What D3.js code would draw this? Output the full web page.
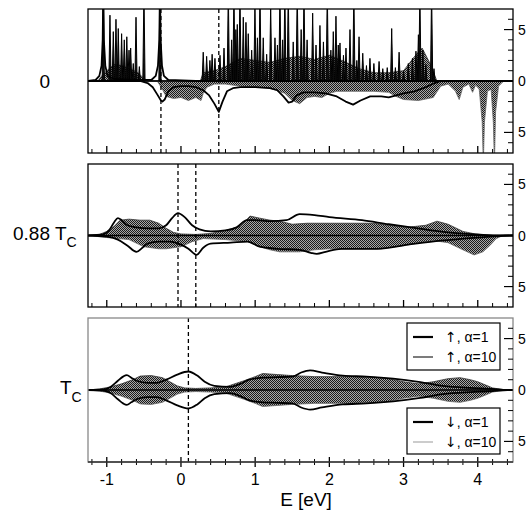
<!DOCTYPE html>
<html><head><meta charset="utf-8">
<script src="https://cdn.jsdelivr.net/npm/d3@7"></script>
<style>body{margin:0;background:#fff}svg{display:block}text{font-family:"Liberation Sans",Arial,Helvetica,sans-serif;fill:#000}</style>
</head><body><svg id="c" width="532" height="512"></svg>
<script>
// ---------- data ----------
const xMajorTicks = [-1, 0, 1, 2, 3, 4];
const xMinorTicks = [-1.2,-0.8,-0.6,-0.4,-0.2,0.2,0.4,0.6,0.8,1.2,1.4,1.6,1.8,2.2,2.4,2.6,2.8,3.2,3.4,3.6,3.8,4.2,4.4];
const yMinorTicks = [-6,-4,-3,-2,-1,1,2,3,4,6];
const yLabelTicks = [-5, 0, 5];
const panelLabels = ["0", "0.88 T", "T"];
const legendArrows = ["\u2191\uFE0E", "\u2191\uFE0E", "\u2193\uFE0E", "\u2193\uFE0E"];
const legendAlpha = [", \u03b1=1", ", \u03b1=10", ", \u03b1=1", ", \u03b1=10"];

// panel 1 (T = 0): spin-up spikes [E, height]
const spikesUp1 = [[-1.047,9],[-0.957,6.4],[-0.912,4.8],[-0.876,6.0],[-0.845,5.1],[-0.80,4.6],[-0.764,4.0],[-0.73,4.3],[-0.70,3.0],[-0.678,3.2],[-0.643,1.7],[-0.606,6.2],[-0.561,1.4],[-0.499,9],[-0.283,9],
 [0.30,2.8],[0.346,2.4],[0.39,2.0],[0.42,2.6],[0.458,2.2],[0.526,2.5],[0.58,3.2],[0.638,9],[0.683,4.0],[0.714,9],[0.74,5.0],[0.759,5.5],[0.795,9],[0.84,6.2],[0.876,5.7],[0.907,4.6],[0.953,3.0],[0.997,7.5],[1.03,4.2],[1.065,9],[1.109,4.2],[1.155,2.6],[1.209,7.5],[1.267,4.2],[1.30,3.5],[1.334,9],[1.37,4.0],[1.40,9],[1.446,9],[1.513,3.8],[1.567,9],[1.62,5.0],[1.658,9],[1.70,4.0],[1.775,6.6],[1.82,3.5],[1.873,5.4],[1.92,3.8],[1.972,9],[2.02,3.0],[2.053,4.8],[2.089,6.3],[2.12,3.5],[2.143,3.7],[2.19,2.5],[2.224,3.2],[2.278,5.0],[2.33,9],[2.37,2.0],[2.40,4.3],[2.45,2.7],[2.50,1.5],[2.547,2.2],[2.60,1.7],[2.67,1.9],[2.72,1.2],[2.78,1.3],[2.84,5.1],[2.89,1.3],[2.94,2.8],[3.00,1.0],[3.064,1.7],[3.12,2.2],[3.167,2.9],[3.20,4.5],[3.22,9],[3.26,3.0],[3.30,1.6],[3.378,9],[3.41,1.2]];
const fillUp1 = [[-1.25,0],[-1.12,0],[-1.08,0.4],[-1.0,1.0],[-0.9,1.6],[-0.8,1.5],[-0.7,1.2],[-0.6,0.9],[-0.52,0.4],[-0.45,0],[0.26,0],[0.3,0.8],[0.45,1.0],[0.6,1.4],[0.8,2.2],[1.0,2.0],[1.2,1.8],[1.4,2.2],[1.6,2.4],[1.8,2.1],[2.0,2.5],[2.2,1.9],[2.4,1.2],[2.6,0.8],[2.8,0.8],[3.0,1.0],[3.15,2.4],[3.25,3.2],[3.35,1.8],[3.45,0],[4.475,0]];
const fillDown1 = [[-1.25,0],[-0.32,0],[-0.25,-0.8],[-0.2,-1.5],[-0.1,-1.7],[0.0,-1.6],[0.1,-1.9],[0.2,-1.6],[0.27,-1.9],[0.3,-1.2],[0.35,-0.6],[0.45,-0.3],[0.6,-0.3],[0.8,-0.5],[1.0,-0.6],[1.2,-0.7],[1.4,-1.2],[1.5,-1.9],[1.6,-2.2],[1.7,-1.6],[1.8,-1.5],[1.9,-1.6],[2.0,-1.2],[2.1,-1.0],[2.3,-1.0],[2.6,-1.0],[2.8,-1.1],[2.9,-1.5],[3.0,-1.8],[3.2,-1.9],[3.4,-1.6],[3.5,-0.5],[3.6,-0.3],[3.7,-1.0],[3.75,-1.8],[3.8,-0.6],[3.88,-0.3],[3.93,-1.1],[3.97,-0.4],[4.02,-0.8],[4.06,-4],[4.075,-8],[4.09,-4],[4.13,-1.0],[4.18,-0.8],[4.21,-4],[4.225,-8],[4.24,-3],[4.28,-0.5],[4.35,0],[4.475,0]];
const lineUp1 = [[-1.25,0],[-1.15,0.1],[-1.10,0.5],[-1.07,1.5],[-1.055,4],[-1.047,9],[-1.039,4],[-1.02,1.5],[-0.99,0.5],[-0.9,0.2],[-0.6,0.1],[-0.40,0.1],[-0.34,0.5],[-0.31,1.5],[-0.292,4],[-0.283,9],[-0.274,4],[-0.256,1.5],[-0.23,0.5],[-0.17,0.1],[0.2,0],[3.45,0],[4.475,0]];
const lineDown1 = [[-1.25,0],[-0.55,0],[-0.45,-0.2],[-0.38,-0.6],[-0.32,-1.3],[-0.27,-1.9],[-0.25,-2.0],[-0.22,-1.8],[-0.17,-1.0],[-0.1,-0.6],[0.0,-0.5],[0.1,-0.5],[0.2,-0.6],[0.3,-0.9],[0.38,-1.4],[0.45,-2.2],[0.51,-3.0],[0.56,-2.0],[0.62,-1.0],[0.7,-0.7],[0.8,-0.6],[1.0,-0.6],[1.2,-0.7],[1.3,-0.9],[1.38,-1.5],[1.45,-2.1],[1.5,-2.0],[1.56,-1.4],[1.65,-1.1],[1.8,-1.1],[1.95,-1.2],[2.1,-1.5],[2.22,-2.0],[2.32,-2.3],[2.42,-1.9],[2.55,-1.5],[2.7,-1.5],[2.8,-1.6],[2.9,-1.4],[3.0,-1.2],[3.15,-1.0],[3.3,-0.6],[3.42,-0.2],[3.5,0],[4.475,0]];
const dashed1 = [-0.27, 0.51];

// panel 2 (0.88 Tc)
const fillUp2 = [[-1.25,0],[-1.1,0.1],[-1.0,0.4],[-0.9,0.9],[-0.82,1.5],[-0.7,1.6],[-0.55,1.5],[-0.42,1.5],[-0.3,1.2],[-0.2,0.7],[-0.1,0.3],[0.0,0.15],[0.2,0.1],[0.4,0.2],[0.6,0.5],[0.8,0.9],[0.93,1.9],[1.06,1.7],[1.2,1.5],[1.33,1.4],[1.5,1.1],[1.7,1.2],[2.0,1.2],[2.3,1.2],[2.6,1.2],[2.8,1.0],[3.04,0.8],[3.3,1.0],[3.45,1.4],[3.6,1.1],[3.8,0.4],[4.0,0.1],[4.2,0],[4.475,0]];
const fillDown2 = [[-1.25,0],[-1.0,-0.2],[-0.7,-0.4],[-0.5,-1.1],[-0.3,-1.3],[-0.2,-1.3],[0.0,-1.1],[0.15,-0.6],[0.3,-0.3],[0.6,-0.4],[0.9,-0.6],[1.06,-1.1],[1.2,-1.4],[1.33,-1.6],[1.6,-1.6],[1.8,-1.4],[2.0,-1.3],[2.4,-1.3],[2.7,-1.3],[3.06,-0.9],[3.4,-0.5],[3.6,-0.7],[3.8,-1.4],[3.95,-1.9],[4.07,-1.6],[4.16,-1.0],[4.25,-0.3],[4.34,0],[4.475,0]];
const lineUp2 = [[-1.25,0],[-1.05,0.1],[-0.97,0.5],[-0.9,1.3],[-0.85,1.7],[-0.8,1.5],[-0.72,1.0],[-0.6,0.8],[-0.45,0.7],[-0.3,0.7],[-0.2,1.0],[-0.12,1.7],[-0.04,2.2],[0.05,1.8],[0.15,1.0],[0.25,0.6],[0.4,0.4],[0.6,0.5],[0.75,0.8],[0.89,1.5],[1.0,1.5],[1.2,1.4],[1.42,1.5],[1.6,2.1],[1.8,2.0],[2.0,1.8],[2.44,1.5],[2.8,1.1],[3.1,0.8],[3.6,0.3],[4.0,0.1],[4.3,0],[4.475,0]];
const lineDown2 = [[-1.25,0],[-1.0,-0.1],[-0.85,-0.4],[-0.72,-1.0],[-0.6,-1.6],[-0.52,-1.2],[-0.45,-0.8],[-0.3,-0.6],[-0.15,-0.6],[0.0,-0.9],[0.1,-1.3],[0.21,-1.9],[0.3,-1.2],[0.4,-0.8],[0.67,-0.7],[0.9,-0.6],[1.06,-1.1],[1.3,-1.3],[1.6,-1.4],[1.75,-1.7],[1.83,-1.8],[1.95,-1.6],[2.16,-1.3],[2.65,-1.3],[3.06,-0.9],[3.5,-0.5],[4.0,-0.2],[4.45,0],[4.475,0]];
const dashed2 = [-0.04, 0.20];

// panel 3 (Tc)
const fillUp3 = [[-1.25,0],[-1.1,0.1],[-0.95,0.3],[-0.8,0.6],[-0.65,1.0],[-0.55,1.35],[-0.4,1.4],[-0.25,1.2],[-0.15,0.8],[-0.05,0.4],[0.05,0.2],[0.2,0.15],[0.4,0.2],[0.6,0.3],[0.85,0.9],[1.0,1.3],[1.1,1.6],[1.3,1.5],[1.5,1.4],[1.8,1.3],[2.2,1.3],[2.6,1.25],[2.8,1.1],[3.0,0.8],[3.2,0.6],[3.4,0.8],[3.6,1.1],[3.76,1.2],[3.9,1.0],[4.0,0.8],[4.1,0.5],[4.2,0.2],[4.38,0],[4.475,0]];
const fillDown3 = [[-1.25,0],[-1.1,-0.1],[-0.95,-0.3],[-0.8,-0.6],[-0.65,-1.0],[-0.55,-1.35],[-0.4,-1.4],[-0.25,-1.2],[-0.15,-0.8],[-0.05,-0.4],[0.05,-0.2],[0.2,-0.15],[0.4,-0.2],[0.6,-0.3],[0.85,-0.9],[1.0,-1.3],[1.1,-1.6],[1.3,-1.5],[1.5,-1.4],[1.8,-1.3],[2.2,-1.3],[2.6,-1.25],[2.8,-1.1],[3.0,-0.8],[3.2,-0.6],[3.4,-0.8],[3.6,-1.1],[3.76,-1.2],[3.9,-1.0],[4.0,-0.8],[4.1,-0.5],[4.2,-0.2],[4.38,0],[4.475,0]];
const lineUp3 = [[-1.25,0],[-1.05,0.05],[-0.95,0.3],[-0.85,0.9],[-0.78,1.3],[-0.73,1.45],[-0.67,1.2],[-0.6,0.9],[-0.45,0.7],[-0.33,0.7],[-0.2,1.0],[-0.05,1.5],[0.10,1.8],[0.22,1.4],[0.32,0.8],[0.45,0.4],[0.66,0.3],[0.8,0.6],[0.92,1.0],[1.1,1.2],[1.3,1.25],[1.5,1.3],[1.62,1.7],[1.74,1.9],[1.9,1.7],[2.18,1.4],[2.5,1.3],[2.86,1.1],[3.2,0.8],[3.53,0.4],[3.9,0.2],[4.2,0.1],[4.4,0],[4.475,0]];
const lineDown3 = [[-1.25,0],[-1.05,-0.05],[-0.95,-0.3],[-0.85,-0.9],[-0.78,-1.3],[-0.73,-1.45],[-0.67,-1.2],[-0.6,-0.9],[-0.45,-0.7],[-0.33,-0.7],[-0.2,-1.0],[-0.05,-1.5],[0.10,-1.8],[0.22,-1.4],[0.32,-0.8],[0.45,-0.4],[0.66,-0.3],[0.8,-0.6],[0.92,-1.0],[1.1,-1.2],[1.3,-1.25],[1.5,-1.3],[1.62,-1.7],[1.74,-1.9],[1.9,-1.7],[2.18,-1.4],[2.5,-1.3],[2.86,-1.1],[3.2,-0.8],[3.53,-0.4],[3.9,-0.2],[4.2,-0.1],[4.4,0],[4.475,0]];
const dashed3 = [0.10];

// ---------- drawing ----------
const svg = d3.select("#c");
const L = 88, R = 513;
const x = d3.scaleLinear().domain([-1.253, 4.475]).range([L, R]);

const defs = svg.append("defs");
const pat = defs.append("pattern").attr("id","stip").attr("patternUnits","userSpaceOnUse").attr("width",2).attr("height",2);
pat.append("rect").attr("width",2).attr("height",2).attr("fill","#a8a8a8");
pat.append("rect").attr("x",0).attr("y",0).attr("width",1).attr("height",1).attr("fill","#1a1a1a");
pat.append("rect").attr("x",1).attr("y",1).attr("width",1).attr("height",1).attr("fill","#1a1a1a");

const panels = [
  {top:9, bottom:153, fills:[fillUp1, fillDown1], spikes:spikesUp1, lines:[lineUp1, lineDown1], dashed:dashed1, frame:"#000", labels:false},
  {top:164, bottom:307, fills:[fillUp2, fillDown2], spikes:[], lines:[lineUp2, lineDown2], dashed:dashed2, frame:"#000", labels:false},
  {top:318, bottom:462, fills:[fillUp3, fillDown3], spikes:[], lines:[lineUp3, lineDown3], dashed:dashed3, frame:"#888", labels:true}
];

panels.forEach((p, i) => {
  const y = d3.scaleLinear().domain([-7, 7]).range([p.bottom, p.top]);
  p.y = y;
  const cid = "clip" + i;
  defs.append("clipPath").attr("id", cid).append("rect")
    .attr("x", L).attr("y", p.top).attr("width", R - L).attr("height", p.bottom - p.top);
  const g = svg.append("g").attr("clip-path", `url(#${cid})`);

  const area = d3.area().x(d => x(d[0])).y0(y(0)).y1(d => y(d[1])).curve(d3.curveLinear);
  p.fills.forEach((f, k) => {
    g.append("path").datum(f).attr("d", area).attr("fill", "url(#stip)")
      .attr("stroke", k === 0 ? "#333" : "#666").attr("stroke-width", 0.8);
  });
  const sw = 0.015;
  g.selectAll("path.spike").data(p.spikes).join("path").attr("class","spike")
    .attr("d", s => area([[s[0]-sw, 0],[s[0], s[1]],[s[0]+sw, 0]]))
    .attr("fill", "#111").attr("stroke", "#000").attr("stroke-width", 1);
  g.append("line").attr("x1", L).attr("x2", R).attr("y1", y(0)).attr("y2", y(0))
    .attr("stroke", "#000").attr("stroke-width", 1.6);
  const line = d3.line().x(d => x(d[0])).y(d => y(d[1])).curve(i === 0 ? d3.curveLinear : d3.curveMonotoneX);
  p.lines.forEach(l => {
    g.append("path").datum(l).attr("d", line).attr("fill", "none")
      .attr("stroke", "#000").attr("stroke-width", 1.8).attr("stroke-linejoin","round");
  });
  g.selectAll("line.dash").data(p.dashed).join("line").attr("class","dash")
    .attr("x1", d => x(d)).attr("x2", d => x(d)).attr("y1", p.top).attr("y2", p.bottom)
    .attr("stroke", "#000").attr("stroke-width", 1.3).attr("stroke-dasharray", "4,3");

  svg.append("rect").attr("x", L).attr("y", p.top).attr("width", R - L).attr("height", p.bottom - p.top)
    .attr("fill", "none").attr("stroke", p.frame).attr("stroke-width", 1.3);

  const ra = svg.append("g");
  ra.selectAll("line.mi").data(yMinorTicks).join("line")
    .attr("x1", R - 5).attr("x2", R).attr("y1", d => y(d)).attr("y2", d => y(d))
    .attr("stroke", "#000").attr("stroke-width", 1);
  ra.selectAll("line.ma").data(yLabelTicks).join("line")
    .attr("x1", R - 9).attr("x2", R).attr("y1", d => y(d)).attr("y2", d => y(d))
    .attr("stroke", "#000").attr("stroke-width", 1.2);
  ra.selectAll("text").data(yLabelTicks).join("text")
    .attr("x", R + 5).attr("y", d => y(d)).attr("dy", "0.36em")
    .attr("font-size", 14).text(d => Math.abs(d));

  const ba = svg.append("g");
  const up = p.labels ? 5 : 7, dn = p.labels ? 5 : 0;
  ba.selectAll("line.ma").data(xMajorTicks).join("line")
    .attr("x1", d => x(d)).attr("x2", d => x(d)).attr("y1", p.bottom - up).attr("y2", p.bottom + dn)
    .attr("stroke", "#000").attr("stroke-width", 1.3);
  ba.selectAll("line.mi").data(xMinorTicks).join("line")
    .attr("x1", d => x(d)).attr("x2", d => x(d)).attr("y1", p.bottom - (p.labels ? 3 : 4)).attr("y2", p.bottom + (p.labels ? 3 : 0))
    .attr("stroke", "#000").attr("stroke-width", 1);
  if (p.labels) {
    ba.append("line").attr("x1", L).attr("x2", R).attr("y1", p.bottom).attr("y2", p.bottom).attr("stroke", "#333").attr("stroke-width", 1.3);
    ba.selectAll("text").data(xMajorTicks).join("text")
      .attr("x", d => x(d)).attr("y", 485).attr("text-anchor", "middle")
      .attr("font-size", 16).text(d => d);
  }
});

svg.append("text").attr("x", 50).attr("y", panels[0].y(0) + 7).attr("text-anchor","end").attr("font-size", 19).text(panelLabels[0]);
const t2 = svg.append("text").attr("x", 13).attr("y", panels[1].y(0) + 4).attr("font-size", 19);
t2.append("tspan").text(panelLabels[1]);
t2.append("tspan").attr("font-size", 14).attr("dy", 7).text("C");
const t3 = svg.append("text").attr("x", 60).attr("y", panels[2].y(0) + 4).attr("font-size", 19);
t3.append("tspan").text(panelLabels[2]);
t3.append("tspan").attr("font-size", 14).attr("dy", 8).text("C");

svg.append("text").attr("x", 306).attr("y", 506).attr("text-anchor","middle").attr("font-size", 19).text("E [eV]");

const legStyles = [{c:"#000", w:2.2},{c:"#444", w:1.4},{c:"#000", w:2.2},{c:"#aaa", w:1.2}];
const boxes = [{y:323, h:47, idx:[0,1]}, {y:408, h:46, idx:[2,3]}];
boxes.forEach(b => {
  const lg = svg.append("g");
  lg.append("rect").attr("x", 407).attr("y", b.y).attr("width", 93).attr("height", b.h)
    .attr("fill", "#fff").attr("stroke", "#000").attr("stroke-width", 1.2);
  b.idx.forEach((n, k) => {
    const yy = b.y + 14 + k * 20;
    lg.append("line").attr("x1", 413).attr("x2", 433).attr("y1", yy).attr("y2", yy)
      .attr("stroke", legStyles[n].c).attr("stroke-width", legStyles[n].w);
    const t = lg.append("text").attr("x", 445).attr("y", yy).attr("dy", "0.36em").attr("font-size", 14);
    t.append("tspan").attr("font-family", "DejaVu Sans").attr("fill", "#000").text(legendArrows[n]);
    t.append("tspan").text(legendAlpha[n]);
  });
});
</script></body></html>
